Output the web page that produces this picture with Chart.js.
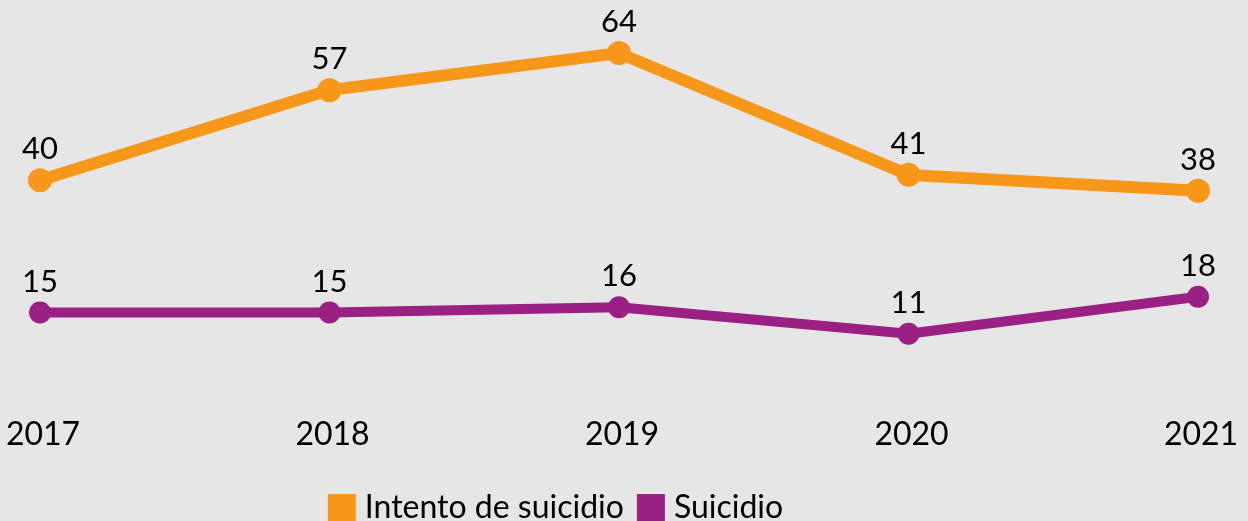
<!DOCTYPE html>
<html>
<head>
<meta charset="utf-8">
<script src="https://cdn.jsdelivr.net/npm/chart.js@4"></script>
<style>
html,body{margin:0;padding:0;background:#e6e6e6;overflow:hidden;}
#wrap{width:1248px;height:534px;}
</style>
</head>
<body>
<div id="wrap"><canvas id="c" width="1248" height="534"></canvas></div>
<script>
const categories = ['2017', '2018', '2019', '2020', '2021'];
const intentoValues = [40, 57, 64, 41, 38];
const suicidioValues = [15, 15, 16, 11, 18];
const seriesNames = ['Intento de suicidio', 'Suicidio'];

const ORANGE = '#f7981b';
const PURPLE = '#9a2183';

const labelPlugin = {
  id: 'pointLabels',
  afterDatasetsDraw(chart) {
    const ctx = chart.ctx;
    ctx.save();
    ctx.font = '31px Lato';
    ctx.fillStyle = '#000';
    ctx.textAlign = 'center';
    ctx.textBaseline = 'middle';
    chart.data.datasets.forEach((ds, i) => {
      const meta = chart.getDatasetMeta(i);
      meta.data.forEach((pt, j) => {
        ctx.fillText(String(ds.data[j]), pt.x, pt.y - 31);
      });
    });
    ctx.restore();
  }
};

const bgPlugin = {
  id: 'bg',
  beforeDraw(chart) {
    const ctx = chart.ctx;
    ctx.save();
    ctx.fillStyle = '#e6e6e6';
    ctx.fillRect(0, 0, chart.width, chart.height);
    ctx.restore();
  }
};

const legendShift = {
  id: 'legendShift',
  afterLayout(chart) {
    const lg = chart.legend;
    if (!lg) return;
    const dx = -60;
    lg.left += dx;
    lg.right += dx;
  }
};

new Chart(document.getElementById('c'), {
  type: 'line',
  data: {
    labels: categories,
    datasets: [
      {
        label: seriesNames[0],
        data: intentoValues,
        borderColor: ORANGE,
        backgroundColor: ORANGE,
        borderWidth: 12,
        pointRadius: 12,
        pointBackgroundColor: ORANGE,
        pointBorderWidth: 0,
        tension: 0
      },
      {
        label: seriesNames[1],
        data: suicidioValues,
        borderColor: PURPLE,
        backgroundColor: PURPLE,
        borderWidth: 10,
        pointRadius: 11,
        pointBackgroundColor: PURPLE,
        pointBorderWidth: 0,
        tension: 0
      }
    ]
  },
  options: {
    responsive: false,
    animation: false,
    layout: { padding: { top: 16, left: 40, right: 50, bottom: 0 } },
    scales: {
      x: {
        offset: false,
        grid: { display: false, drawTicks: false },
        border: { display: false },
        ticks: { font: { family: 'Lato', size: 32 }, color: '#000', padding: 23, labelOffset: 3, maxRotation: 0, autoSkip: false },
        afterFit(scale) {
          scale.paddingLeft = 0;
          scale.paddingRight = 0;
          scale.height = 80;
        }
      },
      y: {
        display: false,
        min: 0,
        max: 71
      }
    },
    plugins: {
      legend: {
        position: 'bottom',
        labels: {
          font: { family: 'Lato', size: 32 },
          color: '#000',
          boxWidth: 14,
          boxHeight: 14,
          padding: 20,
          generateLabels(chart) {
            return chart.data.datasets.map((ds, i) => ({
              text: ds.label,
              fillStyle: ds.backgroundColor,
              strokeStyle: ds.borderColor,
              lineWidth: 14,
              hidden: false,
              datasetIndex: i,
              fontColor: '#000'
            }));
          }
        }
      },
      tooltip: { enabled: false }
    }
  },
  plugins: [bgPlugin, labelPlugin, legendShift]
});
</script>
</body>
</html>
